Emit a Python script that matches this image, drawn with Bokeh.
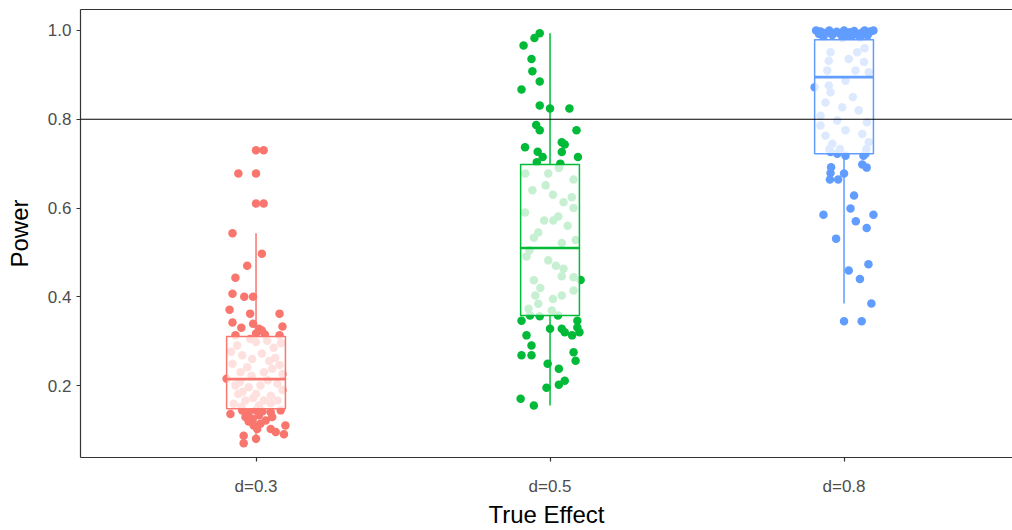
from bokeh.plotting import figure
from bokeh.models import (Range1d, LinearAxis, FixedTicker, NumeralTickFormatter,
                          Span, ColumnDataSource)
from bokeh.embed import file_html
from bokeh.resources import INLINE

categories = ["d=0.3", "d=0.5", "d=0.8"]
colors = ["#F8766D", "#00BA38", "#619CFF"]
power_threshold = 0.8

power_d03 = [0.730, 0.678, 0.610, 0.543, 0.497, 0.470, 0.443, 0.407, 0.400, 0.400,
             0.371, 0.362, 0.362, 0.342, 0.330, 0.339, 0.333, 0.328, 0.324, 0.317,
             0.313, 0.313, 0.315,
             0.290, 0.298, 0.301, 0.268, 0.260, 0.249, 0.241, 0.230, 0.238, 0.230,
             0.215, 0.200, 0.196, 0.200, 0.204, 0.181, 0.181, 0.177, 0.166, 0.166,
             0.166, 0.159, 0.155,
             0.305, 0.285, 0.276, 0.272, 0.255, 0.246, 0.222, 0.212, 0.190, 0.186,
             0.172, 0.160, 0.152, 0.295, 0.262, 0.226, 0.208,
             0.136, 0.144, 0.140, 0.144, 0.140, 0.144, 0.129, 0.125, 0.133, 0.129,
             0.114, 0.110, 0.102, 0.102, 0.110, 0.095, 0.090, 0.087, 0.080, 0.070,
             0.121, 0.119, 0.142]
jitter_d03 = [0.026, -0.060, 0.026, -0.080, 0.020, -0.030, -0.070, -0.080, -0.040, -0.010,
              -0.090, -0.020, 0.080, -0.080, -0.050, -0.010, 0.090, 0.010, 0.020, 0.000,
              -0.070, 0.080, 0.030,
              -0.064, 0.000, 0.038, -0.047, -0.013, -0.080, -0.030, -0.053, 0.055, 0.027,
              -0.100, -0.070, -0.025, 0.015, 0.073, -0.060, 0.000, 0.050, -0.036, 0.027,
              0.073, -0.076, 0.010,
              -0.020, 0.060, -0.085, 0.020, 0.045, 0.080, -0.015, 0.040, 0.090, -0.045,
              -0.010, 0.050, -0.050, 0.085, 0.065, 0.090, -0.055,
              -0.087, -0.047, -0.025, 0.000, 0.050, 0.084, -0.036, -0.013, 0.010, 0.055,
              0.015, -0.008, 0.004, 0.050, 0.100, 0.067, 0.095, -0.042, 0.000, -0.042,
              0.033, -0.025, 0.022]

power_d05 = [0.994, 0.983, 0.966, 0.936, 0.908, 0.885, 0.867, 0.831, 0.824, 0.824,
             0.787, 0.775, 0.775, 0.737, 0.727, 0.748, 0.743, 0.726, 0.715, 0.715,
             0.703, 0.700,
             0.678, 0.678, 0.664, 0.651, 0.624, 0.613, 0.600, 0.581, 0.572, 0.572,
             0.545, 0.533, 0.528, 0.521, 0.491, 0.482, 0.463, 0.446, 0.444, 0.437,
             0.438, 0.420, 0.403, 0.403, 0.414, 0.384, 0.373, 0.369,
             0.690, 0.640, 0.560, 0.505, 0.470, 0.395, 0.630, 0.590,
             0.346, 0.358, 0.356, 0.358, 0.346, 0.328, 0.328, 0.320, 0.331, 0.320,
             0.313, 0.313, 0.290, 0.268, 0.268, 0.275, 0.256, 0.249, 0.238, 0.211,
             0.202, 0.195, 0.170, 0.155]
jitter_d05 = [-0.035, -0.053, -0.090, -0.063, -0.060, -0.035, -0.097, -0.035, 0.000, 0.066,
              -0.047, -0.035, 0.090, -0.085, -0.042, 0.040, 0.050, 0.040, -0.025, 0.095,
              -0.045, 0.035,
              -0.084, -0.006, 0.080, -0.015, 0.074, 0.046, 0.080, 0.028, -0.020, 0.011,
              -0.040, -0.055, 0.087, 0.040, -0.080, -0.006, 0.046, 0.040, 0.080, -0.055,
              0.104, -0.033, -0.050, 0.040, 0.080, -0.040, -0.073, 0.006,
              0.030, -0.060, 0.060, -0.070, 0.020, 0.010, 0.010, -0.085,
              -0.097, -0.068, -0.035, 0.027, 0.093, 0.000, 0.040, 0.050, 0.093, 0.100,
              0.075, -0.080, -0.063, -0.097, -0.063, 0.080, 0.087, -0.008, 0.030, 0.050,
              0.030, -0.012, -0.100, -0.055]

power_d08 = [1.000, 0.998, 0.995, 1.000, 0.990, 0.997, 0.993, 1.000, 0.988, 0.996,
             0.999, 0.991, 0.995, 1.000, 0.989, 0.998, 1.000, 0.986, 0.984, 0.983,
             0.987, 0.992,
             0.951, 0.932, 0.936, 0.951, 0.929, 0.910, 0.910, 0.906, 0.876, 0.887,
             0.861, 0.838, 0.827, 0.808, 0.797, 0.793, 0.763, 0.786, 0.745, 0.767,
             0.775, 0.748, 0.872, 0.960, 0.850, 0.820,
             0.726, 0.722, 0.718, 0.722, 0.733, 0.733, 0.718, 0.733, 0.692, 0.698,
             0.691, 0.679, 0.678, 0.664, 0.664, 0.628, 0.599, 0.585, 0.585, 0.570,
             0.555, 0.531, 0.473, 0.459, 0.440, 0.385, 0.345]
jitter_d08 = [-0.095, -0.080, -0.060, -0.050, -0.040, -0.025, -0.015, 0.000, 0.010, 0.020,
              0.035, 0.045, 0.060, 0.070, 0.080, 0.090, 0.100, -0.070, 0.055, -0.005,
              0.025, -0.085,
              -0.046, -0.052, 0.016, 0.045, 0.068, -0.057, 0.039, 0.084, -0.052, 0.005,
              -0.046, -0.063, -0.006, -0.080, -0.023, 0.078, -0.063, -0.080, -0.040, 0.062,
              0.005, 0.084, -0.100, 0.070, 0.030, 0.050,
              -0.046, -0.023, 0.005, 0.073, -0.050, -0.014, 0.066, 0.076, -0.044, 0.062,
              0.077, -0.046, 0.000, -0.048, -0.020, 0.034, 0.022, -0.070, 0.100, 0.040,
              0.077, -0.027, 0.083, 0.016, 0.054, 0.093, 0.060]

# boxplot statistics
box_q1 = [0.1475, 0.358, 0.722]
box_median = [0.2145, 0.510, 0.895]
box_q3 = [0.3104, 0.698, 0.979]
whisker_low = [0.070, 0.155, 0.385]
whisker_high = [0.543, 0.994, 1.000]

outlier_category = ["d=0.3", "d=0.3", "d=0.3", "d=0.8"]
outlier_power = [0.730, 0.678, 0.610, 0.345]

FONT = "Liberation Sans"
BOX_HALF = 0.1

p = figure(width=1012, height=530, output_backend="svg", toolbar_location=None,
           x_range=Range1d(0.403, 3.573), y_range=Range1d(0.0378, 1.0473),
           x_axis_type=None, y_axis_type=None,
           min_border_left=80, min_border_right=0, min_border_top=9, min_border_bottom=73)
p.outline_line_color = None
p.background_fill_color = "white"
p.border_fill_color = "white"
p.xgrid.visible = False
p.ygrid.visible = False

pos = {c: i + 1 for i, c in enumerate(categories)}
groups = [(power_d03, jitter_d03), (power_d05, jitter_d05), (power_d08, jitter_d08)]

# jittered points
for c, col, (vals, jit) in zip(categories, colors, groups):
    src = ColumnDataSource(dict(x=[pos[c] + j for j in jit], y=vals))
    p.scatter("x", "y", source=src, size=8.5, fill_color=col, line_color=None)

# outliers drawn by the boxplot at the centre
ocol = {c: col for c, col in zip(categories, colors)}
osrc = ColumnDataSource(dict(x=[pos[c] for c in outlier_category], y=outlier_power,
                             color=[ocol[c] for c in outlier_category]))
p.scatter("x", "y", source=osrc, size=8.5, fill_color="color", line_color=None)

# boxplots
xc = [pos[c] for c in categories]
bsrc = ColumnDataSource(dict(x=xc, x0=[x - BOX_HALF for x in xc], x1=[x + BOX_HALF for x in xc],
                             q1=box_q1, q3=box_q3, med=box_median,
                             lo=whisker_low, hi=whisker_high, color=colors))
p.segment(x0="x", x1="x", y0="q3", y1="hi", source=bsrc, line_color="color", line_width=1.5)
p.segment(x0="x", x1="x", y0="q1", y1="lo", source=bsrc, line_color="color", line_width=1.5)
p.vbar(x="x", width=2 * BOX_HALF, bottom="q1", top="q3", source=bsrc,
       fill_color="white", fill_alpha=0.78, line_color="color", line_width=1.5)
p.segment(x0="x0", x1="x1", y0="med", y1="med", source=bsrc, line_color="color", line_width=2.6)

p.add_layout(Span(location=power_threshold, dimension="width", line_color="black", line_width=1.2))

AX = "#333333"
yax = LinearAxis(ticker=FixedTicker(ticks=[0.2, 0.4, 0.6, 0.8, 1.0]),
                 formatter=NumeralTickFormatter(format="0.0"), axis_label="Power")
xax = LinearAxis(ticker=FixedTicker(ticks=xc), axis_label="True Effect",
                 major_label_overrides={pos[c]: c for c in categories})
for ax in (yax, xax):
    ax.axis_line_color = AX
    ax.axis_line_width = 1.2
    ax.major_tick_line_color = AX
    ax.major_tick_line_width = 1.2
    ax.major_tick_out = 4
    ax.major_tick_in = 0
    ax.minor_tick_line_color = None
    ax.major_label_text_font = FONT
    ax.major_label_text_font_size = "17px"
    ax.major_label_text_color = "#4D4D4D"
    ax.axis_label_text_font = FONT
    ax.axis_label_text_font_size = "24px"
    ax.axis_label_text_font_style = "normal"
    ax.axis_label_text_color = "black"
yax.major_label_standoff = 5
yax.axis_label_standoff = 12
xax.major_label_standoff = 15
xax.axis_label_standoff = 2
p.add_layout(yax, "left")
p.add_layout(xax, "below")

top = LinearAxis(ticker=FixedTicker(ticks=[]), major_tick_out=0, major_tick_in=0,
                 axis_line_color=AX, axis_line_width=1.2, minor_tick_line_color=None,
                 major_label_text_font_size="0px", major_label_standoff=0)
p.add_layout(top, "above")

open("out.html", "w").write(file_html(p, INLINE))
